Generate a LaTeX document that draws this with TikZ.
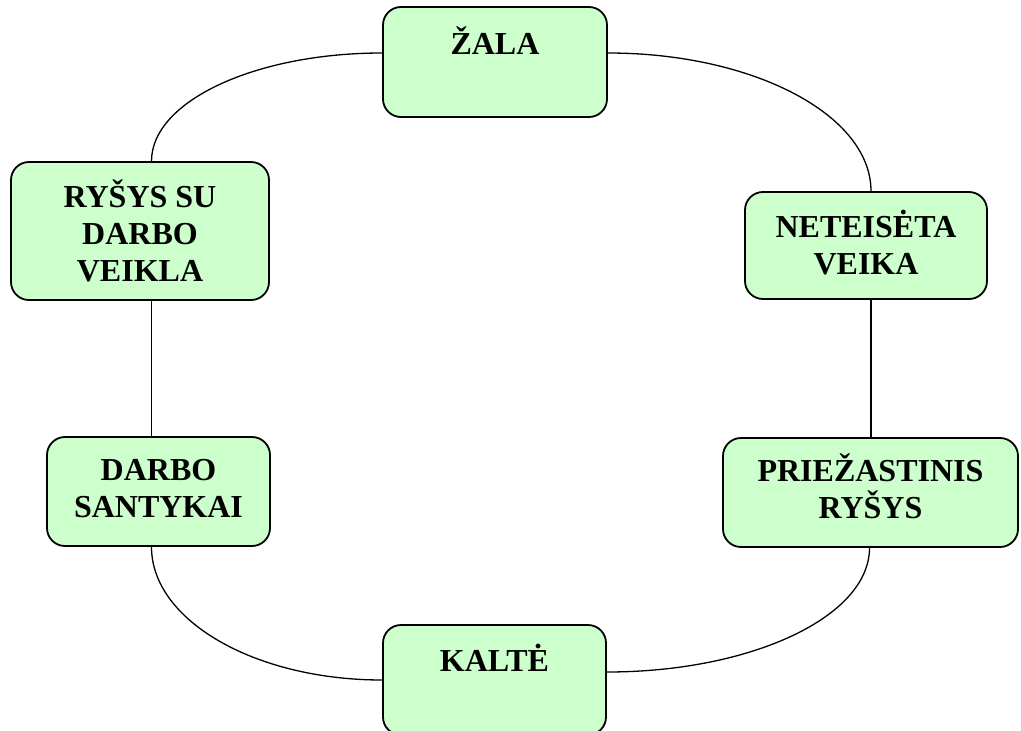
\documentclass[tikz,border=0pt]{standalone}
\usepackage{fontspec}
\setmainfont{Liberation Serif}
\usetikzlibrary{calc,backgrounds}
\definecolor{boxgreen}{HTML}{CCFFCC}
\newcommand\quarterHV[2]{%
  \draw[conn] (#1) .. controls ($(#1)!0.552!(#2 |- #1)$) and ($(#2)!0.552!(#2 |- #1)$) .. (#2);}
\begin{document}
\begin{tikzpicture}[x=1pt,y=-1pt,
  box/.style={draw=black, line width=1.8pt, fill=boxgreen, rounded corners=18pt, inner sep=0pt},
  lbl/.style={anchor=north, inner sep=0pt, align=center, font=\bfseries\fontsize{32}{37}\selectfont},
  conn/.style={draw=black, line width=1.3pt}]
\useasboundingbox (0,0) rectangle (1021,731);
% boxes
\node[box, minimum width=224pt, minimum height=110pt] (zala) at (495,62) {};
\node[box, minimum width=242pt, minimum height=107pt] (net) at (866,245.5) {};
\node[box, minimum width=295pt, minimum height=109pt] (prie) at (870.5,492.5) {};
\node[box, minimum width=223pt, minimum height=110pt] (kalte) at (494.5,680) {};
\node[box, minimum width=223pt, minimum height=109pt] (darbo) at (158.5,491.5) {};
\node[box, minimum width=258pt, minimum height=138pt] (rysys) at (140,231) {};
% labels
\node[lbl] (tzala) at (495,24) {\rule{0pt}{30pt}ŽALA};
\node[lbl] (tnet) at (866,207) {\rule{0pt}{30pt}NETEISĖTA\\VEIKA};
\node[lbl] (tprie) at (870.5,451) {\rule{0pt}{30pt}PRIEŽASTINIS\\RYŠYS};
\node[lbl] (tkalte) at (494.5,641) {\rule{0pt}{30pt}KALTĖ};
\node[lbl] (tdarbo) at (158.5,450) {\rule{0pt}{30pt}DARBO\\SANTYKAI};
\node[lbl] (trysys) at (140,177) {\rule{0pt}{30pt}RYŠYS SU\\DARBO\\VEIKLA};
% attachment points
\coordinate (zl) at ([yshift=9pt]zala.west);
\coordinate (zr) at ([yshift=9pt]zala.east);
\coordinate (nt) at ([xshift=5pt]net.north);
\coordinate (nb) at ([xshift=5pt]net.south);
\coordinate (pt) at ([xshift=0.5pt]prie.north);
\coordinate (pb) at ([xshift=-1pt]prie.south);
\coordinate (kr) at ([yshift=8pt]kalte.east);
\coordinate (kl) at (kalte.west);
\coordinate (dt) at ([xshift=-7pt]darbo.north);
\coordinate (db) at ([xshift=-7pt]darbo.south);
\coordinate (rt) at ([xshift=11.5pt]rysys.north);
\coordinate (rb) at ([xshift=11.5pt]rysys.south);
% connectors
\begin{scope}[on background layer]
\quarterHV{zl}{rt}
\quarterHV{zr}{nt}
\draw[conn] (nb) -- (pt);
\quarterHV{kr}{pb}
\quarterHV{kl}{db}
\draw[conn] (dt) -- (rb);
\end{scope}
\end{tikzpicture}
\end{document}
